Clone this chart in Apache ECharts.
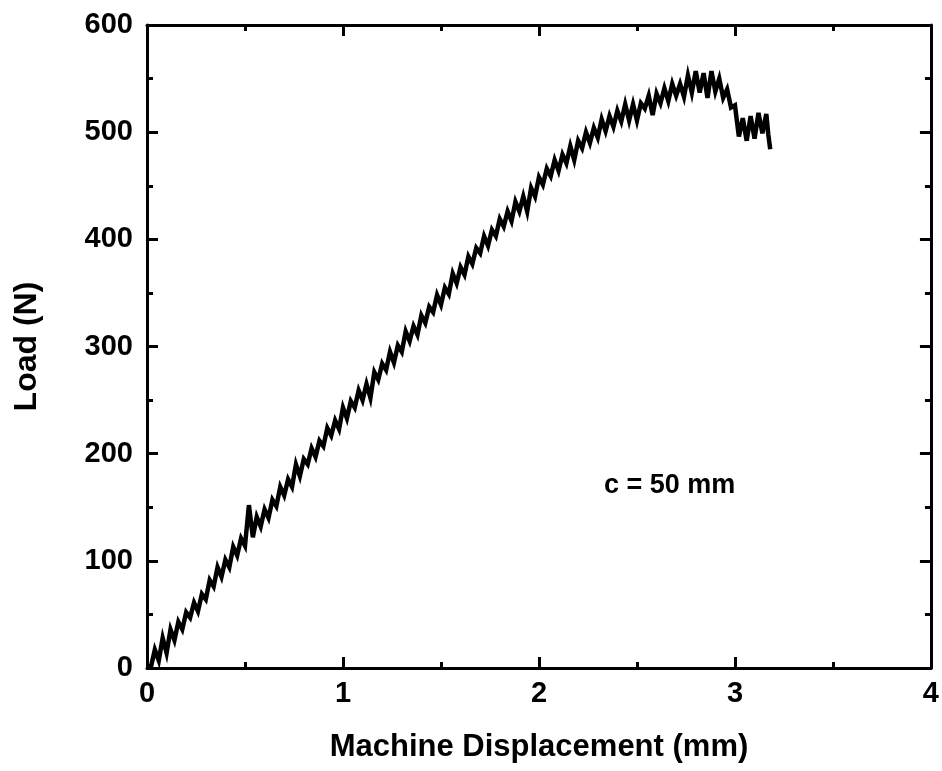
<!DOCTYPE html>
<html>
<head>
<meta charset="utf-8">
<script src="https://cdn.jsdelivr.net/npm/echarts@6/dist/echarts.min.js"></script>
<style>
html,body{margin:0;padding:0;background:#fff;}
#chart{width:942px;height:771px;}
</style>
</head>
<body>
<div id="chart"></div>
<script>
// Load (N) vs machine displacement (mm)
const riseA = [
  [0.00,2],[0.02,1],[0.04,17],[0.06,7],[0.08,28],[0.10,14],[0.12,36],[0.14,26],[0.16,43],[0.18,36],
  [0.20,52],[0.22,47],[0.24,61],[0.26,53],[0.28,69],[0.30,64],[0.32,82],[0.34,76],[0.36,94],[0.38,85],
  [0.40,101],[0.42,94],[0.44,113],[0.46,105],[0.48,121],[0.50,114],[0.52,152],[0.54,122],[0.56,141],[0.58,132],
  [0.60,148],[0.62,140],[0.64,157],[0.66,151],[0.68,169],[0.70,161],[0.72,176],[0.74,169],[0.76,190],[0.78,179],
  [0.80,195],[0.82,190],[0.84,205],[0.86,197],[0.88,212],[0.90,207],[0.92,224],[0.94,217],[0.96,231],[0.98,223]
];
const riseB = [
  [1.00,243],[1.02,233],[1.04,249],[1.06,243],[1.08,259],[1.10,250],[1.12,265],[1.14,252],[1.16,276],[1.18,269],
  [1.20,284],[1.22,278],[1.24,295],[1.26,285],[1.28,301],[1.30,295],[1.32,314],[1.34,305],[1.36,319],[1.38,311],
  [1.40,329],[1.42,322],[1.44,337],[1.46,332],[1.48,348],[1.50,339],[1.52,355],[1.54,349],[1.56,368],[1.58,359],
  [1.60,374],[1.62,367],[1.64,384],[1.66,377],[1.68,392],[1.70,387],[1.72,403],[1.74,394],[1.76,409],[1.78,403],
  [1.80,419],[1.82,412],[1.84,426],[1.86,417],[1.88,435],[1.90,426],[1.92,440],[1.94,426],[1.96,448],[1.98,440]
];
const peak = [
  [2.00,458],[2.02,451],[2.04,466],[2.06,459],[2.08,474],[2.10,464],[2.12,479],[2.14,471],[2.16,487],[2.18,474],
  [2.20,492],[2.22,485],[2.24,500],[2.26,490],[2.28,504],[2.30,495],[2.32,512],[2.34,501],[2.36,515],[2.38,505],
  [2.40,520],[2.42,510],[2.44,526],[2.46,511],[2.48,526],[2.50,511],[2.52,527],[2.54,522],[2.56,534],[2.58,516],
  [2.60,536],[2.62,527],[2.64,541],[2.66,529],[2.68,545],[2.70,534],[2.72,545],[2.74,533],[2.76,553],[2.78,537],
  [2.80,557],[2.82,537],[2.84,555],[2.86,532],[2.88,557],[2.90,538],[2.92,550],[2.94,532],[2.96,540],[2.98,523]
];
const drop = [
  [3.00,525],[3.02,496],[3.04,513],[3.06,492],[3.08,515],[3.10,494],[3.12,518],[3.14,499],[3.16,517],[3.17,498],[3.18,484]
];
const xTicks = [0,1,2,3,4];
const yTicks = [0,100,200,300,400,500,600];
const xTitle = 'Machine Displacement (mm)';
const yTitle = 'Load (N)';
const note = 'c = 50 mm';

const curve = riseA.concat(riseB, peak, drop);
const font = 'Liberation Sans, Arial, sans-serif';

function axisBase(show) {
  return {
    axisLine:{show:true, onZero:false, lineStyle:{color:'#000', width:3}},
    axisTick:{show:true, inside:true, length:11, lineStyle:{color:'#000', width:3}},
    minorTick:{show:true, splitNumber:2, length:6, lineStyle:{color:'#000', width:3}},
    splitLine:{show:false},
    axisLabel:{show:show, color:'#000', fontFamily:font, fontWeight:'bold', fontSize:29}
  };
}

const chart = echarts.init(document.getElementById('chart'), null, {renderer:'canvas'});
chart.setOption({
  backgroundColor:'#fff',
  animation:false,
  grid:{left:147, right:9, top:25, bottom:103, containLabel:false},
  xAxis:[
    Object.assign(axisBase(true), {type:'value', position:'bottom', min:xTicks[0], max:xTicks[xTicks.length-1], interval:1,
      name:xTitle, nameLocation:'middle', nameGap:64,
      nameTextStyle:{color:'#000', fontFamily:font, fontWeight:'bold', fontSize:31},
      axisLabel:{color:'#000', fontFamily:font, fontWeight:'bold', fontSize:29, margin:11}}),
    Object.assign(axisBase(false), {type:'value', position:'top', min:xTicks[0], max:xTicks[xTicks.length-1], interval:1})
  ],
  yAxis:[
    Object.assign(axisBase(true), {type:'value', position:'left', min:yTicks[0], max:yTicks[yTicks.length-1], interval:100,
      name:yTitle, nameLocation:'middle', nameGap:104, nameRotate:90,
      nameTextStyle:{color:'#000', fontFamily:font, fontWeight:'bold', fontSize:32},
      axisLabel:{color:'#000', fontFamily:font, fontWeight:'bold', fontSize:29, margin:14}}),
    Object.assign(axisBase(false), {type:'value', position:'right', min:yTicks[0], max:yTicks[yTicks.length-1], interval:100})
  ],
  series:[{
    type:'line', xAxisIndex:0, yAxisIndex:0, data:curve, showSymbol:false, symbol:'none',
    lineStyle:{color:'#000', width:4.5, join:'miter', miterLimit:5, cap:'butt'}, z:3
  }],
  graphic:[{
    type:'text', left:604, top:472,
    style:{text:note, fill:'#000', font:'bold 27px ' + font}
  }]
});
</script>
</body>
</html>
